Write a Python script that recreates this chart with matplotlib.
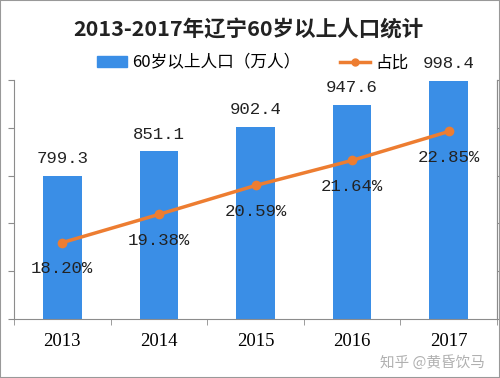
import numpy as np
import matplotlib.pyplot as plt
from matplotlib.lines import Line2D
from matplotlib.patches import Patch, Rectangle

# ================================
# DATA
# ================================
years = ["2013", "2014", "2015", "2016", "2017"]
population = [799.3, 851.1, 902.4, 947.6, 998.4]   # 万人
share = [18.20, 19.38, 20.59, 21.64, 22.85]        # %

plt.rcParams["font.family"] = ["Noto Sans CJK SC", "DejaVu Sans"]

bar_color = "#3a8ee6"
line_color = "#ed7d31"
axis_color = "#8c8c8c"

fig = plt.figure(figsize=(5, 3.78), dpi=100)
ax = fig.add_axes([0.028, 0.156, 0.966, 0.632])
x = np.arange(len(years))

# ================================
# BARS
# ================================
ax.bar(x, population, width=0.4, color=bar_color, zorder=2)
ax.set_ylim(500, 1000)
ax.set_xlim(-0.5, len(years) - 0.5)
ax.set_yticks(np.arange(500, 1001, 100))
ax.set_yticklabels([])
ax.set_xticks(x)
ax.set_xticklabels(years, fontsize=13.5, family="Liberation Serif")
ax.set_xticks(np.arange(-0.5, len(years)), minor=True)
ax.tick_params(axis="x", which="major", length=0, pad=10)
ax.tick_params(axis="x", which="minor", length=4, color=axis_color)
ax.tick_params(axis="y", length=4, color=axis_color)
ax.spines["top"].set_visible(False)
for s in ["left", "bottom", "right"]:
    ax.spines[s].set_color(axis_color)

for xi, v in zip(x, population):
    ax.text(xi, v + 36, f"{v:.1f}", ha="center", va="center",
            fontsize=12.5, family="Liberation Mono", color="#222222")

# ================================
# LINE (secondary axis)
# ================================
ax2 = ax.twinx()
ax2.plot(x, share, color=line_color, lw=2.5, marker="o", ms=6, zorder=3)
ax2.set_ylim(15, 25)
ax2.set_yticks(np.arange(15, 26, 2))
ax2.set_yticklabels([])
ax2.tick_params(axis="y", length=4, color=axis_color)
for s in ["top", "left", "bottom"]:
    ax2.spines[s].set_visible(False)
ax2.spines["right"].set_color(axis_color)

for xi, v in zip(x, share):
    ax2.text(xi, v - 1.08, f"{v:.2f}%", ha="center", va="center",
             fontsize=12.5, family="Liberation Mono", color="#222222")

# ================================
# TITLE / LEGEND / WATERMARK
# ================================
fig.text(0.496, 0.92, "2013-2017年辽宁60岁以上人口统计", ha="center",
         va="center", fontsize=15.5, fontweight="bold", color="#222222")

handles = [Patch(color=bar_color, label="60岁以上人口（万人）"),
           Line2D([0], [0], color=line_color, lw=2.5, marker="o", ms=5,
                  label="占比")]
fig.legend(handles=handles, loc="center", bbox_to_anchor=(0.505, 0.833),
           ncol=2, frameon=False, fontsize=12, handlelength=1.8,
           handleheight=0.6, columnspacing=2.4, handletextpad=0.3)

fig.text(0.76, 0.04, "知乎 @黄昏饮马", fontsize=10.5, color="#b0b0b0",
         va="center")
fig.patches.append(Rectangle((0, 0), 1, 1, transform=fig.transFigure,
                             fill=False, ec="#999999", lw=1.5))

fig.savefig("out.png", dpi=100)
